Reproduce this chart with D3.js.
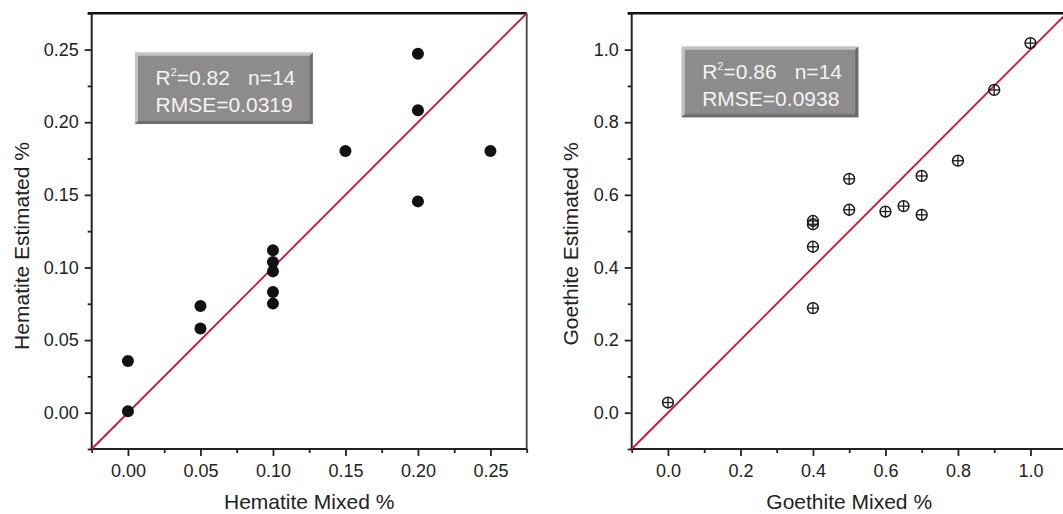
<!DOCTYPE html>
<html>
<head>
<meta charset="utf-8">
<script src="https://cdn.jsdelivr.net/npm/d3@7"></script>
<style>
  html, body { margin: 0; padding: 0; background: #fff; }
  svg { display: block; font-family: "Liberation Sans", Arial, Helvetica, sans-serif; }
</style>
</head>
<body>
<svg id="chart" width="1063" height="514"></svg>
<script>
// ---- data ----
const hematiteMixed = [0, 0, 0.05, 0.05, 0.1, 0.1, 0.1, 0.1, 0.1, 0.15, 0.2, 0.2, 0.2, 0.25];
const hematiteEstimated = [0.0356, 0.001, 0.0735, 0.0579, 0.1118, 0.1038, 0.0973, 0.0831, 0.0751, 0.1802, 0.2472, 0.2082, 0.1455, 0.1802];
const goethiteMixed = [0, 0.4, 0.4, 0.4, 0.4, 0.5, 0.5, 0.6, 0.65, 0.7, 0.7, 0.8, 0.9, 1.0];
const goethiteEstimated = [0.028, 0.288, 0.457, 0.519, 0.528, 0.559, 0.644, 0.554, 0.569, 0.652, 0.545, 0.694, 0.889, 1.018];

const hematiteDomain = [-0.025, 0.275];
const goethiteDomain = [-0.1, 1.1];
const hematiteTicks = [0, 0.05, 0.10, 0.15, 0.20, 0.25];
const hematiteMinor = [-0.025, 0.025, 0.075, 0.125, 0.175, 0.225, 0.275];
const goethiteTicks = [0, 0.2, 0.4, 0.6, 0.8, 1.0];
const goethiteMinor = [-0.1, 0.1, 0.3, 0.5, 0.7, 0.9, 1.1];

const axisTitles = ["Hematite Mixed %", "Hematite Estimated %", "Goethite Mixed %", "Goethite Estimated %"];
const statsR2 = ["0.82", "0.86"];
const statsN = ["14", "14"];
const statsRMSE = ["0.0319", "0.0938"];

// ---- layout ----
const svg = d3.select("#chart");
const panels = [
  { x0: 91.7, y0: 13.3, w: 435, h: 435.7, dom: hematiteDomain, ticks: hematiteTicks, minor: hematiteMinor,
    fmt: d3.format(".2f"), xs: hematiteMixed, ys: hematiteEstimated, xt: axisTitles[0], yt: axisTitles[1],
    kind: "dot", box: [135, 52.7, 177.7, 71.3], yLabelX: 28.5, yLabelY: 246, stat: 0 },
  { x0: 631.7, y0: 13.3, w: 435, h: 435.7, dom: goethiteDomain, ticks: goethiteTicks, minor: goethiteMinor,
    fmt: d3.format(".1f"), xs: goethiteMixed, ys: goethiteEstimated, xt: axisTitles[2], yt: axisTitles[3],
    kind: "cross", box: [681.7, 46.7, 176.6, 70.6], yLabelX: 578.3, yLabelY: 244, stat: 1 }
];

const ink = "#222";
const red = "#cc1133";

panels.forEach(p => {
  const x = d3.scaleLinear().domain(p.dom).range([p.x0, p.x0 + p.w]);
  const y = d3.scaleLinear().domain(p.dom).range([p.y0 + p.h, p.y0]);
  const g = svg.append("g");

  // minor ticks
  g.append("g").attr("transform", `translate(0,${p.y0 + p.h})`)
    .call(d3.axisBottom(x).tickValues(p.minor).tickSize(4).tickFormat(""))
    .call(s => s.select(".domain").remove())
    .call(s => s.selectAll("line").attr("stroke", ink).attr("stroke-width", 1.8));
  g.append("g").attr("transform", `translate(${p.x0},0)`)
    .call(d3.axisLeft(y).tickValues(p.minor).tickSize(4).tickFormat(""))
    .call(s => s.select(".domain").remove())
    .call(s => s.selectAll("line").attr("stroke", ink).attr("stroke-width", 1.8));

  // major ticks
  g.append("g").attr("transform", `translate(0,${p.y0 + p.h})`)
    .call(d3.axisBottom(x).tickValues(p.ticks).tickSize(7).tickPadding(8).tickFormat(p.fmt))
    .call(s => s.select(".domain").remove())
    .call(s => s.selectAll("line").attr("stroke", ink).attr("stroke-width", 1.8))
    .call(s => s.selectAll("text").attr("fill", ink).attr("font-size", 18).attr("font-family", null));
  g.append("g").attr("transform", `translate(${p.x0},0)`)
    .call(d3.axisLeft(y).tickValues(p.ticks).tickSize(7).tickPadding(6).tickFormat(p.fmt))
    .call(s => s.select(".domain").remove())
    .call(s => s.selectAll("line").attr("stroke", ink).attr("stroke-width", 1.8))
    .call(s => s.selectAll("text").attr("fill", ink).attr("font-size", 18).attr("font-family", null));

  // frame
  g.append("line").attr("x1", p.x0 - 4).attr("x2", p.x0 + p.w).attr("y1", p.y0).attr("y2", p.y0)
    .attr("stroke", "#111").attr("stroke-width", 2.6);
  g.append("line").attr("x1", p.x0 + p.w).attr("x2", p.x0 + p.w).attr("y1", p.y0).attr("y2", p.y0 + p.h)
    .attr("stroke", "#444").attr("stroke-width", 1.8);
  g.append("line").attr("x1", p.x0).attr("x2", p.x0).attr("y1", p.y0).attr("y2", p.y0 + p.h + 1)
    .attr("stroke", ink).attr("stroke-width", 2);
  g.append("line").attr("x1", p.x0 - 1).attr("x2", p.x0 + p.w).attr("y1", p.y0 + p.h).attr("y2", p.y0 + p.h)
    .attr("stroke", ink).attr("stroke-width", 2);

  // 1:1 line
  g.append("line")
    .attr("x1", x(p.dom[0])).attr("y1", y(p.dom[0]))
    .attr("x2", x(p.dom[1])).attr("y2", y(p.dom[1]))
    .attr("stroke", red).attr("stroke-width", 1.8);

  // points
  const pts = p.xs.map((v, i) => [v, p.ys[i]]);
  if (p.kind === "dot") {
    g.selectAll("circle.pt").data(pts).join("circle")
      .attr("class", "pt").attr("cx", d => x(d[0])).attr("cy", d => y(d[1]))
      .attr("r", 6).attr("fill", "#111");
  } else {
    const m = g.selectAll("g.pt").data(pts).join("g")
      .attr("class", "pt").attr("transform", d => `translate(${x(d[0])},${y(d[1])})`);
    const r = 5.4;
    m.append("circle").attr("r", r).attr("fill", "none").attr("stroke", "#1a1a1a").attr("stroke-width", 1.5);
    m.append("line").attr("x1", -r).attr("x2", r).attr("stroke", "#1a1a1a").attr("stroke-width", 1.3);
    m.append("line").attr("y1", -r).attr("y2", r).attr("stroke", "#1a1a1a").attr("stroke-width", 1.3);
  }

  // stats box
  const [bx, by, bw, bh] = p.box;
  g.append("rect").attr("x", bx).attr("y", by).attr("width", bw).attr("height", bh).attr("fill", "#8c8c8c");
  g.append("path").attr("d", `M${bx},${by + bh} L${bx},${by} L${bx + bw},${by} L${bx + bw - 3},${by + 3} L${bx + 3},${by + 3} L${bx + 3},${by + bh - 3} Z`)
    .attr("fill", "#c4c4c4");
  g.append("path").attr("d", `M${bx},${by + bh} L${bx + bw},${by + bh} L${bx + bw},${by} L${bx + bw - 3},${by + 3} L${bx + bw - 3},${by + bh - 3} L${bx + 3},${by + bh - 3} Z`)
    .attr("fill", "#6c6c6c");
  const t1 = g.append("text").attr("x", bx + 20.5).attr("y", by + 32.5).attr("fill", "#f4f4f4").attr("font-size", 21);
  t1.append("tspan").text("R");
  t1.append("tspan").attr("font-size", 11).attr("dy", -9).text("2");
  t1.append("tspan").attr("dy", 9).text("=" + statsR2[p.stat]);
  g.append("text").attr("x", bx + 113).attr("y", by + 32.5).attr("fill", "#f4f4f4").attr("font-size", 21)
    .text("n=" + statsN[p.stat]);
  g.append("text").attr("x", bx + 20.5).attr("y", by + 59).attr("fill", "#f4f4f4").attr("font-size", 21)
    .text("RMSE=" + statsRMSE[p.stat]);

  // axis titles
  g.append("text").attr("x", p.x0 + p.w / 2).attr("y", 509).attr("text-anchor", "middle")
    .attr("fill", ink).attr("font-size", 21).text(p.xt);
  g.append("text").attr("transform", `translate(${p.yLabelX},${p.yLabelY}) rotate(-90)`)
    .attr("text-anchor", "middle").attr("fill", ink).attr("font-size", 21).text(p.yt);
});
</script>
</body>
</html>
